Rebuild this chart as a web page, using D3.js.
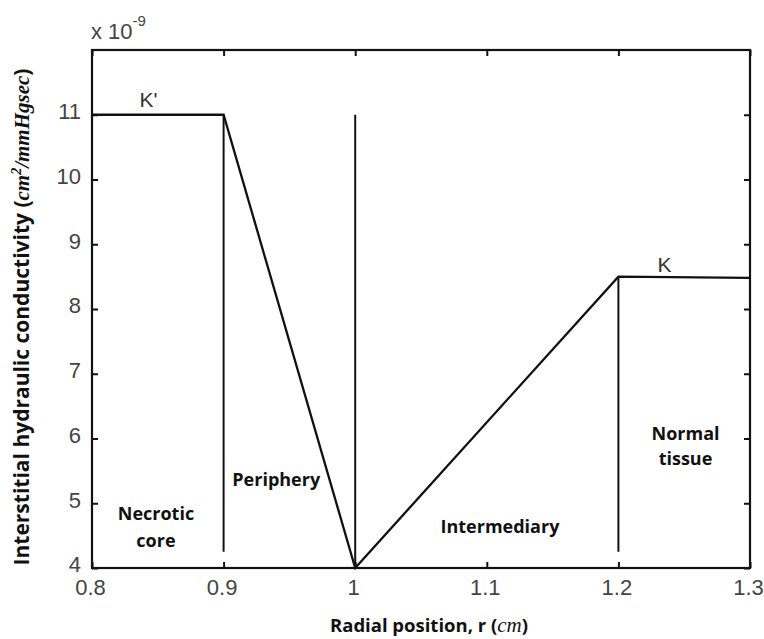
<!DOCTYPE html>
<html>
<head>
<meta charset="utf-8">
<script src="https://cdn.jsdelivr.net/npm/d3@7"></script>
<style>
  html, body { margin: 0; padding: 0; background: #fff; }
  svg { display: block; }
  .tick text { font-family: "Liberation Sans", Arial, sans-serif; font-size: 22px; fill: #444; }
  .region { font-family: "Open Sans", sans-serif; font-weight: 700; font-size: 18px; fill: #111; }
  .klabel { font-family: "Liberation Sans", Arial, sans-serif; font-size: 21px; fill: #333; }
</style>
</head>
<body>
<svg id="chart" width="764" height="639"></svg>
<script>
// Piecewise hydraulic conductivity profile (units of 1e-9 cm^2/mmHg·s)
const radius = [0.8, 0.9, 1.0, 1.2, 1.3];
const conductivity = [11, 11, 4, 8.5, 8.48];

// Boundaries between tissue zones: [r, yFrom, yTo]
const boundaryR = [0.9, 1.0, 1.2];
const boundaryFrom = [4.25, 4, 4.25];
const boundaryTo = [11, 11, 8.5];

const xTicks = [0.8, 0.9, 1.0, 1.1, 1.2, 1.3];
const xTickLabels = ["0.8", "0.9", "1", "1.1", "1.2", "1.3"];
const yTicks = [4, 5, 6, 7, 8, 9, 10, 11];

// Zone annotations
const zoneNames = [["Necrotic", "core"], ["Periphery"], ["Intermediary"], ["Normal", "tissue"]];
const zoneX = [0.8486, 0.940, 1.110, 1.251];
const zoneY = [4.74, 5.27, 4.54, 5.98];
const zoneGap = [27, 0, 0, 25];

const kLabels = ["K'", "K"];
const kX = [0.843, 1.235];
const kY = [11.12, 8.57];

const svg = d3.select("#chart");
const m = { left: 92, right: 14, top: 50, bottom: 71 };
const W = 764, H = 639;

const x = d3.scaleLinear().domain([0.8, 1.3]).range([m.left, W - m.right]);
const y = d3.scaleLinear().domain([4, 12]).range([H - m.bottom, m.top]);

const tickLen = 6;

// Bottom axis with labels, inward ticks
const gx = svg.append("g").attr("transform", `translate(0,${y(4)})`)
  .call(d3.axisBottom(x).tickValues(xTicks).tickFormat((d, i) => xTickLabels[i])
    .tickSizeInner(-tickLen).tickSizeOuter(0).tickPadding(0));
// Top axis, ticks only
const gxt = svg.append("g").attr("transform", `translate(0,${y(12)})`)
  .call(d3.axisTop(x).tickValues(xTicks).tickFormat("").tickSizeInner(-tickLen).tickSizeOuter(0));
// Left axis with labels
const gy = svg.append("g").attr("transform", `translate(${x(0.8)},0)`)
  .call(d3.axisLeft(y).tickValues(yTicks).tickFormat(d3.format("d"))
    .tickSizeInner(-tickLen).tickSizeOuter(0).tickPadding(0));
// Right axis, ticks only
const gyr = svg.append("g").attr("transform", `translate(${x(1.3)},0)`)
  .call(d3.axisRight(y).tickValues(yTicks).tickFormat("").tickSizeInner(-tickLen).tickSizeOuter(0));

[gx, gxt, gy, gyr].forEach(g => {
  g.select(".domain").remove();
  g.selectAll(".tick line").attr("stroke", "#111").attr("stroke-width", 2);
});
gx.selectAll(".tick text").attr("y", 11).attr("dy", "0.72em").attr("dx", -2);
gy.selectAll(".tick text").attr("x", -11).attr("y", -4).attr("dy", "0.36em");

// Frame
svg.append("rect")
  .attr("x", x(0.8)).attr("y", y(12))
  .attr("width", x(1.3) - x(0.8)).attr("height", y(4) - y(12))
  .attr("fill", "none").attr("stroke", "#111").attr("stroke-width", 2.2);

// Zone boundaries
svg.append("g").selectAll("line").data(boundaryR).join("line")
  .attr("x1", d => x(d)).attr("x2", d => x(d))
  .attr("y1", (d, i) => y(boundaryFrom[i])).attr("y2", (d, i) => y(boundaryTo[i]))
  .attr("stroke", "#111").attr("stroke-width", 2);

// Conductivity profile
const pts = radius.map((r, i) => [r, conductivity[i]]);
svg.append("path")
  .datum(pts)
  .attr("d", d3.line().x(d => x(d[0])).y(d => y(d[1])))
  .attr("fill", "none").attr("stroke", "#111").attr("stroke-width", 2.3)
  .attr("stroke-linejoin", "miter");

// K labels
svg.append("g").selectAll("text").data(kLabels).join("text")
  .attr("class", "klabel").attr("text-anchor", "middle")
  .attr("x", (d, i) => x(kX[i])).attr("y", (d, i) => y(kY[i]))
  .text(d => d);

// Zone labels
zoneNames.forEach((lines, i) => {
  const t = svg.append("text").attr("class", "region").attr("text-anchor", "middle")
    .attr("x", x(zoneX[i])).attr("y", y(zoneY[i]));
  lines.forEach((s, j) => t.append("tspan").attr("x", x(zoneX[i])).attr("dy", j === 0 ? 0 : zoneGap[i]).text(s));
});

// Exponent multiplier
const mult = svg.append("text").attr("x", 91).attr("y", 39)
  .attr("font-family", "Liberation Sans, Arial, sans-serif").attr("font-size", 22).attr("fill", "#444");
mult.append("tspan").text("x 10");
mult.append("tspan").attr("font-size", 15).attr("dy", -13).text("-9");

// Axis titles
const bold = "Open Sans, sans-serif";
const math = "Liberation Serif, DejaVu Serif, serif";

const xt = svg.append("text").attr("x", 429).attr("y", 632).attr("text-anchor", "middle")
  .attr("font-size", 18.5).attr("fill", "#111");
xt.append("tspan").attr("font-family", bold).attr("font-weight", 700).text("Radial position, r (");
xt.append("tspan").attr("font-family", math).attr("font-style", "italic").attr("font-size", 21).text("cm");
xt.append("tspan").attr("font-family", bold).attr("font-weight", 700).text(")");

const yt = svg.append("text").attr("transform", "translate(29,317) rotate(-90)")
  .attr("text-anchor", "middle").attr("font-size", 21).attr("fill", "#111");
yt.append("tspan").attr("font-family", bold).attr("font-weight", 700).text("Interstitial hydraulic conductivity (");
yt.append("tspan").attr("font-family", math).attr("font-style", "italic").attr("font-weight", 700).attr("font-size", 21).text("cm");
yt.append("tspan").attr("font-family", math).attr("font-style", "italic").attr("font-weight", 700).attr("font-size", 14).attr("dy", -8).text("2");
yt.append("tspan").attr("font-family", math).attr("font-style", "italic").attr("font-weight", 700).attr("font-size", 21).attr("dy", 8).text("/mmHgsec");
yt.append("tspan").attr("font-family", bold).attr("font-weight", 700).text(")");
</script>
</body>
</html>
